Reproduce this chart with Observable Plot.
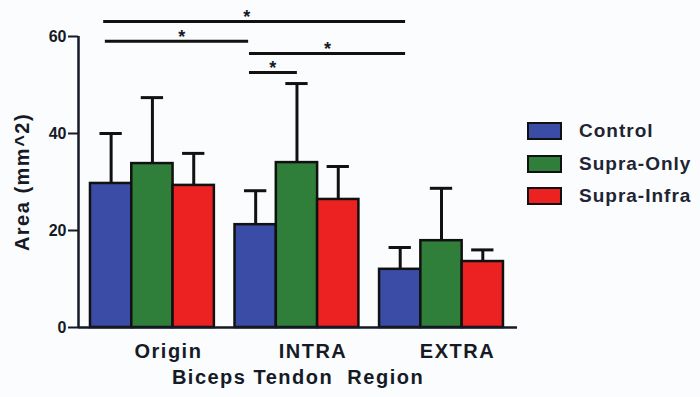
<!DOCTYPE html>
<html><head><meta charset="utf-8">
<script src="https://cdn.jsdelivr.net/npm/d3@7"></script>
<script src="https://cdn.jsdelivr.net/npm/@observablehq/plot@0.6"></script>
<style>
body{margin:0;background:#fbfcfd;}
#wrap{position:relative;width:700px;height:397px;overflow:hidden;font-family:"Liberation Sans",Arial,sans-serif;}
#wrap svg g[aria-label="text"] text{letter-spacing:1.5px;}
#legend{position:absolute;left:527px;top:115px;}
.item{display:flex;align-items:center;height:32.5px;}
.sw{width:31px;height:14px;border:2.5px solid #111;margin-right:17px;flex:none;}
.lab{font-size:19px;font-weight:bold;color:#1e2433;white-space:nowrap;letter-spacing:1px;}
</style></head><body><div id="wrap"><div id="legend"></div></div>
<script>
const regions = ["Origin", "INTRA", "EXTRA"];
const groups = ["Control", "Supra-Only", "Supra-Infra"];
const colors = ["#3a4ca6", "#2f7f3b", "#ec2222"];
const controlMean = [29.7, 21.2, 12.0];
const supraOnlyMean = [33.8, 34.0, 17.9];
const supraInfraMean = [29.3, 26.4, 13.6];
const controlSD = [10.3, 7.0, 4.5];
const supraOnlySD = [13.6, 16.3, 10.8];
const supraInfraSD = [6.6, 6.8, 2.4];
const yTicks = [0, 20, 40, 60];
// significance brackets: x in bar-slot units, y in data units
const sigX1 = [0.61, 0.65, 4.14, 4.14];
const sigX2 = [7.92, 4.12, 7.92, 5.30];
const sigY = [63.1, 59.0, 56.5, 52.6];
const sigStar = [4.09, 2.52, 6.05, 4.72];

const ink = "#151a26";
const offset = 0.29, step = 3.5;
const means = [controlMean, supraOnlyMean, supraInfraMean];
const sds = [controlSD, supraOnlySD, supraInfraSD];
const bars = [];
regions.forEach((r, i) => groups.forEach((g, j) => {
  const x1 = offset + i * step + j;
  bars.push({region: r, group: g, mean: means[j][i], sd: sds[j][i], x1, x2: x1 + 1, mid: x1 + 0.5});
}));
const sig = sigY.map((y, k) => ({y, x1: sigX1[k], x2: sigX2[k], star: sigStar[k]}));

const chart = Plot.plot({
  width: 700, height: 397,
  marginLeft: 78, marginRight: 183, marginTop: 36, marginBottom: 70,
  style: {background: "transparent", fontFamily: "'Liberation Sans', Arial, sans-serif", color: ink},
  x: {domain: [0, 10.63], axis: null},
  y: {domain: [0, 60]},
  color: {domain: groups, range: colors},
  marks: [
    Plot.axisY({ticks: yTicks, tickSize: 10, tickPadding: 2, label: null, fontSize: 16, fontWeight: "bold", strokeWidth: 2, color: ink}),
    Plot.ruleX(bars, {x: "mid", y1: "mean", y2: d => d.mean + d.sd, stroke: "#111", strokeWidth: 3}),
    Plot.ruleY(bars, {y: d => d.mean + d.sd, x1: d => d.mid - 0.27, x2: d => d.mid + 0.27, stroke: "#111", strokeWidth: 3}),
    Plot.rect(bars, {x1: "x1", x2: "x2", y1: 0, y2: "mean", fill: "group", stroke: "#111", strokeWidth: 2.5}),
    Plot.ruleX([0], {stroke: ink, strokeWidth: 2.5}),
    Plot.ruleY([0], {stroke: ink, strokeWidth: 2.5}),
    Plot.ruleY(sig, {y: "y", x1: "x1", x2: "x2", stroke: "#111", strokeWidth: 3}),
    Plot.text(sig, {x: "star", y: "y", text: () => "*", dy: -4, fontSize: 18, fontWeight: "bold", fill: ink}),
    Plot.text(regions, {x: (d, i) => offset + i * step + 1.5, y: () => 0, dy: 24, dx: 16, fontSize: 20, fontWeight: "bold", fill: ink}),
    Plot.text(["Biceps Tendon\u00a0 Region"], {frameAnchor: "bottom", dy: 56, fontSize: 20, fontWeight: "bold", fill: ink}),
    Plot.text(["Area (mm^2)"], {frameAnchor: "left", textAnchor: "middle", dx: -56, rotate: -90, fontSize: 20, fontWeight: "bold", fill: ink})
  ]
});
const wrap = document.getElementById("wrap");
wrap.insertBefore(chart, wrap.firstChild);
const leg = document.getElementById("legend");
groups.forEach((g, j) => {
  const it = document.createElement("div"); it.className = "item";
  const sw = document.createElement("div"); sw.className = "sw"; sw.style.background = colors[j];
  const lb = document.createElement("span"); lb.className = "lab"; lb.textContent = g;
  it.appendChild(sw); it.appendChild(lb); leg.appendChild(it);
});
</script></body></html>
